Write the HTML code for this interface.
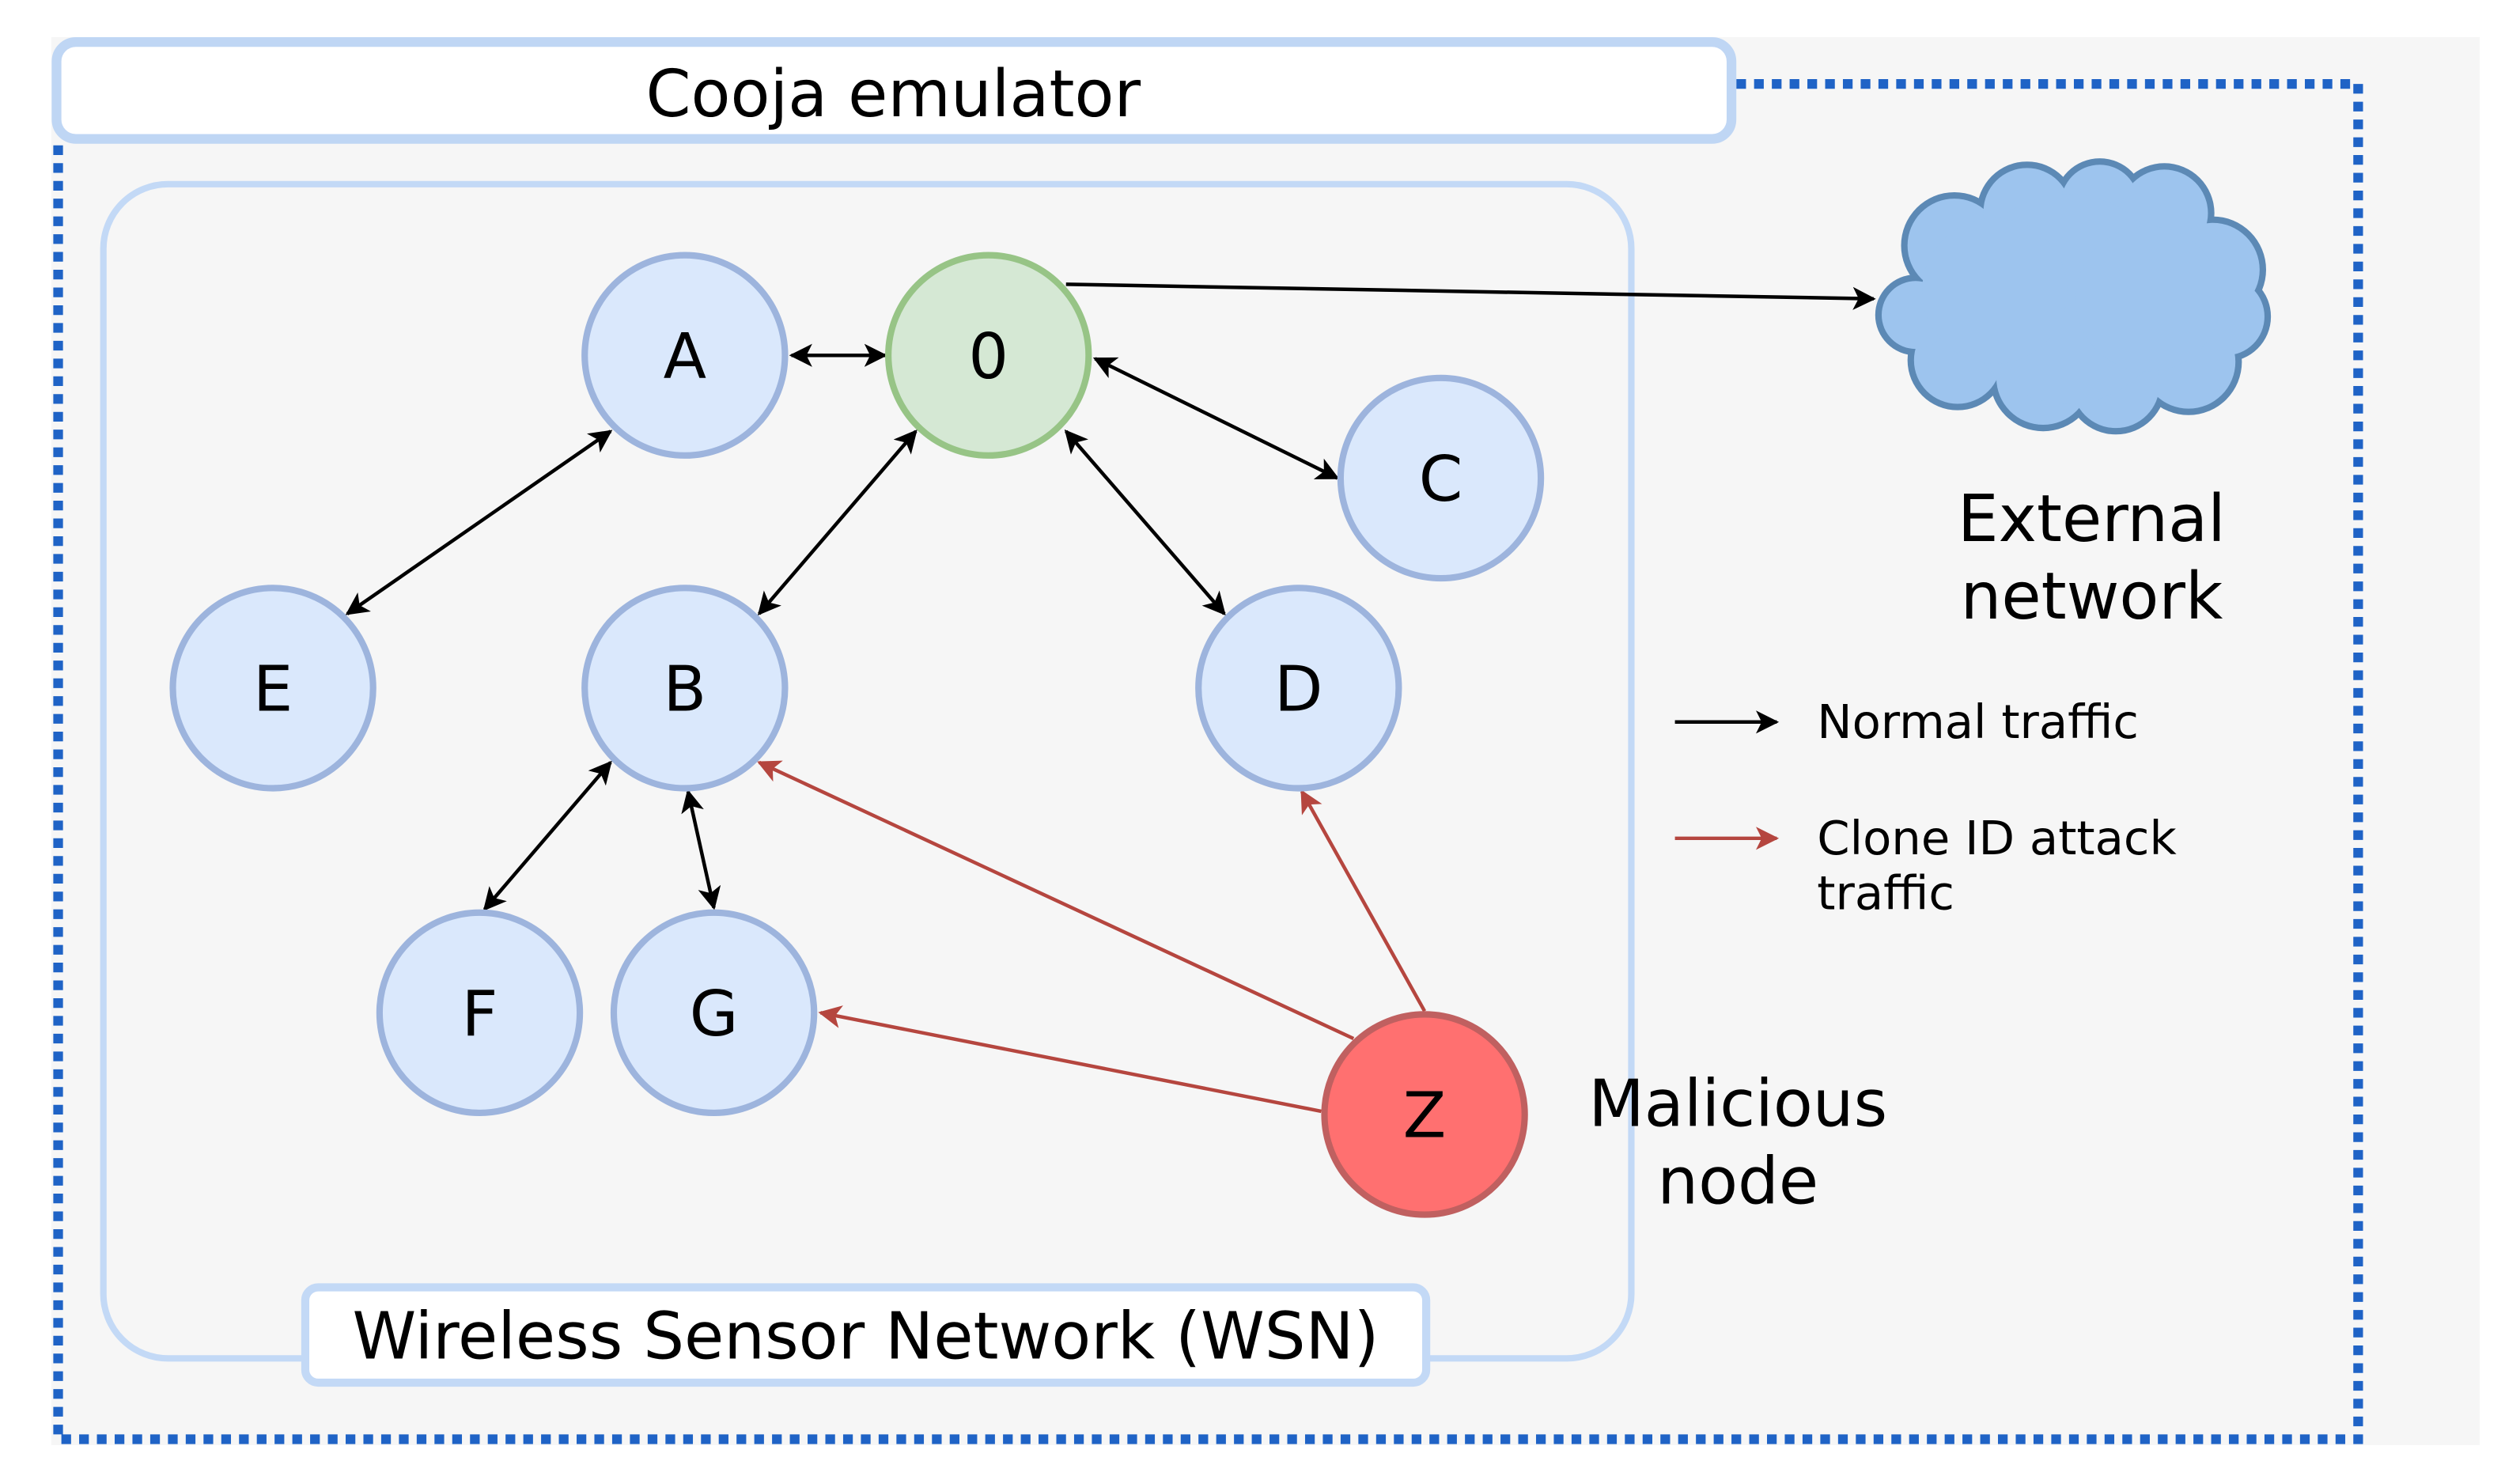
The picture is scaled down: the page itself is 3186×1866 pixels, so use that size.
<!DOCTYPE html>
<html><head><meta charset="utf-8"><style>
html,body{margin:0;padding:0;background:#fff;}
svg{display:block;}
text{font-family:"DejaVu Sans","Liberation Sans",sans-serif;fill:#000;}
</style></head><body>
<svg width="3186" height="1866" viewBox="0 0 1560.2 913.8" preserveAspectRatio="none" xmlns="http://www.w3.org/2000/svg">
<defs>
<marker id="ab" viewBox="0 0 10 10" refX="9" refY="5" markerWidth="6.5" markerHeight="6.5" orient="auto-start-reverse" markerUnits="strokeWidth"><path d="M0,0 L10,5 L0,10 L2.5,5 z" fill="#000"/></marker>
<marker id="ar" viewBox="0 0 10 10" refX="9" refY="5" markerWidth="6.5" markerHeight="6.5" orient="auto" markerUnits="strokeWidth"><path d="M0,0 L10,5 L0,10 L2.5,5 z" fill="#b5463f"/></marker>
</defs>
<rect x="31.8" y="23" width="1503.5" height="871.7" fill="#f6f6f6"/>
<path d="M1075,52 H1460 V891 H36 V90" fill="none" stroke="#1f63c6" stroke-width="6" stroke-dasharray="6 5"/>
<rect x="35" y="26" width="1037" height="60" rx="12" fill="#fff" stroke="#bfd6f4" stroke-width="6"/>
<text x="553" y="72" font-size="40" text-anchor="middle">Cooja emulator</text>
<rect x="64" y="114" width="946" height="727" rx="40" fill="none" stroke="#c3d9f6" stroke-width="4"/>
<rect x="189" y="797" width="694" height="59" rx="8" fill="#fff" stroke="#c3d9f6" stroke-width="5"/>
<text x="536" y="841" font-size="40" text-anchor="middle">Wireless Sensor Network (WSN)</text>

<!-- cloud -->
<g fill="#5c89b5">
<circle cx="1210" cy="152" r="33"/><circle cx="1255" cy="131" r="31"/><circle cx="1300" cy="126" r="28"/><circle cx="1340" cy="132" r="31"/><circle cx="1370" cy="167" r="33"/><circle cx="1378" cy="196" r="28"/><circle cx="1355" cy="224" r="33"/><circle cx="1310" cy="238" r="31"/><circle cx="1265" cy="234" r="33"/><circle cx="1212" cy="223" r="31"/><circle cx="1186" cy="195" r="25"/>
</g>
<g fill="#9dc4ee">
<circle cx="1210" cy="152" r="29"/><circle cx="1255" cy="131" r="27"/><circle cx="1300" cy="126" r="24"/><circle cx="1340" cy="132" r="27"/><circle cx="1370" cy="167" r="29"/><circle cx="1378" cy="196" r="24"/><circle cx="1355" cy="224" r="29"/><circle cx="1310" cy="238" r="27"/><circle cx="1265" cy="234" r="29"/><circle cx="1212" cy="223" r="27"/><circle cx="1186" cy="195" r="21"/>
<circle cx="1280" cy="185" r="65"/><circle cx="1235" cy="180" r="45"/><circle cx="1330" cy="185" r="45"/>
</g>

<!-- edges -->
<g stroke="#000" stroke-width="2.2" fill="none">
<line x1="490" y1="220" x2="548" y2="220" marker-start="url(#ab)" marker-end="url(#ab)"/>
<line x1="660" y1="176" x2="1160" y2="185" marker-end="url(#ab)"/>
<line x1="678" y1="222" x2="828" y2="296" marker-start="url(#ab)" marker-end="url(#ab)"/>
<line x1="378" y1="267" x2="215" y2="380" marker-start="url(#ab)" marker-end="url(#ab)"/>
<line x1="567" y1="267" x2="470" y2="380" marker-start="url(#ab)" marker-end="url(#ab)"/>
<line x1="660" y1="267" x2="758" y2="380" marker-start="url(#ab)" marker-end="url(#ab)"/>
<line x1="378" y1="472" x2="300" y2="563" marker-start="url(#ab)" marker-end="url(#ab)"/>
<line x1="426" y1="490" x2="442" y2="562" marker-start="url(#ab)" marker-end="url(#ab)"/>
<line x1="1037" y1="447" x2="1100" y2="447" marker-end="url(#ab)"/>
</g>
<g stroke="#b5463f" stroke-width="2.2" fill="none">
<line x1="838" y1="643" x2="470" y2="472" marker-end="url(#ar)"/>
<line x1="882" y1="626" x2="806" y2="490" marker-end="url(#ar)"/>
<line x1="818" y1="688" x2="508" y2="627" marker-end="url(#ar)"/>
<line x1="1037" y1="519" x2="1100" y2="519" marker-end="url(#ar)"/>
</g>

<!-- nodes -->
<g stroke="#9db4dd" stroke-width="4" fill="#dae8fc">
<circle cx="424" cy="220" r="62"/>
<circle cx="892" cy="296" r="62"/>
<circle cx="169" cy="426" r="62"/>
<circle cx="424" cy="426" r="62"/>
<circle cx="804" cy="426" r="62"/>
<circle cx="297" cy="627" r="62"/>
<circle cx="442" cy="627" r="62"/>
</g>
<circle cx="612" cy="220" r="62" fill="#d5e8d4" stroke="#97c486" stroke-width="4"/>
<circle cx="882" cy="690" r="62" fill="#ff7070" stroke="#c06060" stroke-width="4"/>
<g font-size="39" text-anchor="middle">
<text x="424" y="234">A</text>
<text x="612" y="234">0</text>
<text x="892" y="310">C</text>
<text x="169" y="440">E</text>
<text x="424" y="440">B</text>
<text x="804" y="440">D</text>
<text x="297" y="641">F</text>
<text x="442" y="641">G</text>
<text x="882" y="704">Z</text>
</g>

<g font-size="40" text-anchor="middle">
<text x="1295" y="335">External</text>
<text x="1295" y="383">network</text>
<text x="1076" y="697">Malicious</text>
<text x="1076" y="745">node</text>
</g>
<g font-size="29">
<text x="1125" y="457">Normal traffic</text>
<text x="1125" y="529">Clone ID attack</text>
<text x="1125" y="563">traffic</text>
</g>
</svg>
</body></html>
